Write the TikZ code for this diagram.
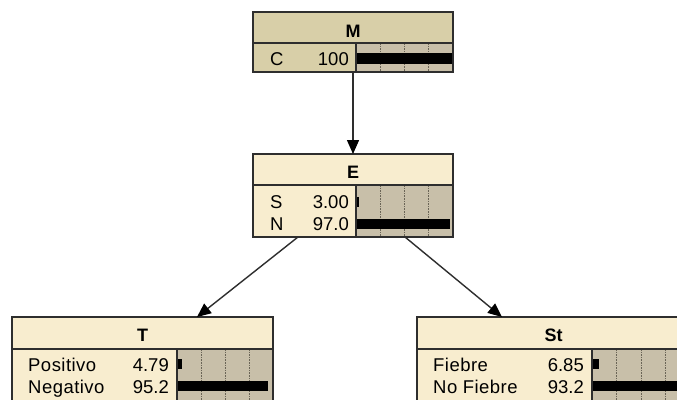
\documentclass[tikz,border=0pt]{standalone}
\usepackage{fontspec}
\setmainfont{Liberation Sans}
\usetikzlibrary{arrows.meta}

\definecolor{cream}{HTML}{F8EDCF}
\definecolor{khaki}{HTML}{D8CFA8}
\definecolor{barbg}{HTML}{C8BFA9}
\definecolor{edge}{HTML}{2E2E2E}
\definecolor{tickc}{HTML}{6A6456}

\tikzset{
  frame/.style={draw=edge, line width=1.3pt, rectangle, inner sep=0pt, outer sep=0pt},
  ttl/.style={font=\fontsize{18}{18}\selectfont\bfseries, anchor=base, inner sep=0pt},
  lab/.style={font=\fontsize{18.5}{18.5}\selectfont\addfontfeature{LetterSpace=2.5}, anchor=base west, inner sep=0pt},
  val/.style={font=\fontsize{18.5}{18.5}\selectfont, anchor=base east, inner sep=0pt},
  divider/.style={draw=edge, line width=1.2pt},
  tickline/.style={draw=tickc, line width=0.8pt, dash pattern=on 1.6pt off 1pt},
  link/.style={draw=edge, line width=1.4pt, -{Triangle[length=14pt,width=12pt,color=black,fill=black]}}
}

\begin{document}
\begin{tikzpicture}[x=1pt,y=-1pt]
  \useasboundingbox (0,0) rectangle (677,399);
  \clip (0,0) rectangle (677,399);
  \fill[white] (0,0) rectangle (677,399);

  % ---------- M ----------
  \fill[khaki] (253,12) rectangle (453,72);
  \fill[barbg] (356,43) rectangle (453,72);
  \foreach \t in {0.25,0.5,0.75}
    \draw[tickline] ({356+97*\t},43) -- ({356+97*\t},72);
  \fill[black] (356,53) rectangle (453,64);
  \draw[divider] (253,43) -- (453,43);
  \draw[divider] (356,43) -- (356,72);
  \node[frame, minimum width=200pt, minimum height=60pt] (M) at (353,42) {};
  \node[ttl] (Mt) at (353,37) {M};
  \node[lab] (Mc) at (270,65) {C};
  \node[val] (Mcv) at (349,65) {100};

  % ---------- E ----------
  \fill[cream] (253,154) rectangle (453,237);
  \fill[barbg] (356,185) rectangle (453,237);
  \foreach \t in {0.25,0.5,0.75}
    \draw[tickline] ({356+97*\t},185) -- ({356+97*\t},237);
  \fill[black] (356,196.5) rectangle ({356+97*0.03},206.5);
  \fill[black] (356,218.5) rectangle ({356+97*0.97},228.5);
  \draw[divider] (253,185) -- (453,185);
  \draw[divider] (356,185) -- (356,237);
  \node[frame, minimum width=200pt, minimum height=83pt] (E) at (353,195.5) {};
  \node[ttl] (Et) at (353,178.5) {E};
  \node[lab] (Es) at (270,208) {S};
  \node[val] (Esv) at (349,208) {3.00};
  \node[lab] (En) at (270,230) {N};
  \node[val] (Env) at (349,230) {97.0};

  % ---------- T ----------
  \fill[cream] (12,317) rectangle (273,401);
  \fill[barbg] (177,349) rectangle (273,401);
  \foreach \t in {0.25,0.5,0.75}
    \draw[tickline] ({177+96*\t},349) -- ({177+96*\t},401);
  \fill[black] (177,359) rectangle ({177+96*0.0479},369);
  \fill[black] (177,381) rectangle ({177+96*0.952},391);
  \draw[divider] (12,349) -- (273,349);
  \draw[divider] (177,349) -- (177,401);
  \node[frame, minimum width=261pt, minimum height=84pt] (T) at (142.5,359) {};
  \node[ttl] (Tt) at (142.5,341.5) {T};
  \node[lab] (Tp) at (28,371) {Positivo};
  \node[val] (Tpv) at (169,371) {4.79};
  \node[lab] (Tn) at (28,393) {Negativo};
  \node[val] (Tnv) at (169,393) {95.2};

  % ---------- St ----------
  \fill[cream] (417,317) rectangle (690,401);
  \fill[barbg] (592,349) rectangle (690,401);
  \foreach \t in {0.25,0.5,0.75}
    \draw[tickline] ({592+98*\t},349) -- ({592+98*\t},401);
  \fill[black] (592,359) rectangle ({592+98*0.0685},369);
  \fill[black] (592,381) rectangle ({592+98*0.932},391);
  \draw[divider] (417,349) -- (690,349);
  \draw[divider] (592,349) -- (592,401);
  \node[frame, minimum width=273pt, minimum height=84pt] (St) at (553.5,359) {};
  \node[ttl] (Stt) at (553.5,341.5) {St};
  \node[lab] (Sf) at (433,371) {Fiebre};
  \node[val] (Sfv) at (584,371) {6.85};
  \node[lab] (Sn) at (433,393) {No Fiebre};
  \node[val] (Snv) at (584,393) {93.2};

  % ---------- links ----------
  \draw[link] (M.south) -- (E.north);
  \draw[link] ([xshift=-55pt]E.south) -- ([xshift=54.5pt]T.north);
  \draw[link] ([xshift=52pt]E.south) -- ([xshift=-51.5pt]St.north);
\end{tikzpicture}
\end{document}
